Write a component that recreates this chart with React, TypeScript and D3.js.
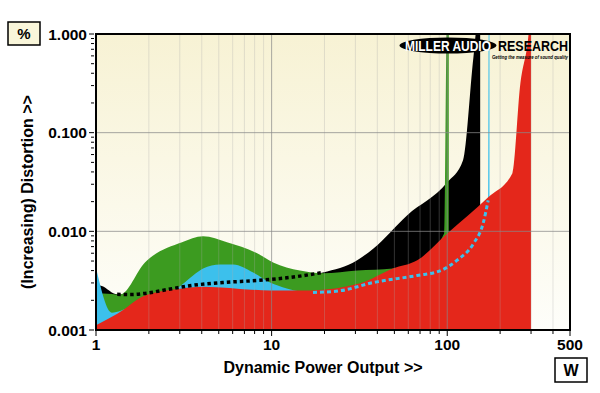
import React from 'react';
import * as d3 from 'd3';

interface Pt {
    w: number;
    v: number;
}

// black trace (8 ohm)
const blackPower = [1, 1.08, 1.32, 1.6, 1.9, 2.57, 3.52, 5.29, 8.27, 12.7, 19.6, 30.7, 38, 59, 100, 123, 141, 148, 154];
const blackDist = [0.0029, 0.0028, 0.0023, 0.00229, 0.00235, 0.00258, 0.00283, 0.00303, 0.00318, 0.00341, 0.00383, 0.0051, 0.0067, 0.0145, 0.0314, 0.0526, 0.584, 1.2, 1.2];

// green trace (1 ohm)
const greenPower = [1, 1.1, 1.37, 1.9, 3.09, 4.07, 5.57, 8.27, 10.2, 14.5, 19.6, 30.7, 49, 67.5, 96, 99.5, 102];
const greenDist = [0.0022, 0.00235, 0.00229, 0.00484, 0.00773, 0.0089, 0.00773, 0.00598, 0.00484, 0.004, 0.00375, 0.004, 0.0042, 0.0048, 0.0095, 1.2, 1.2];

// cyan trace (2 ohm)
const cyanPower = [1, 1.23, 1.56, 2.03, 2.89, 3.57, 4.07, 5.09, 6.04, 7.85, 9.8, 12.2, 17.2, 24.5, 38, 67.5, 91, 114, 141, 160, 171, 172, 174];
const cyanDist = [0.0043, 0.0015, 0.0017, 0.002, 0.00263, 0.00357, 0.0042, 0.00462, 0.00462, 0.00383, 0.00303, 0.00264, 0.0024, 0.0025, 0.00303, 0.00357, 0.00398, 0.0051, 0.0075, 0.012, 0.0206, 1.2, 1.2];

// red trace (4 ohm)
const redPower = [1, 1.33, 1.9, 3.09, 4.07, 9.8, 16.6, 31.9, 49, 67.5, 100, 171, 235, 261, 285, 296, 300];
const redDist = [0.00112, 0.00147, 0.00224, 0.00264, 0.00275, 0.00252, 0.00252, 0.00297, 0.0042, 0.0051, 0.0095, 0.0221, 0.0388, 0.318, 0.74, 1.2, 1.2];

// hidden parts shown dotted
const blackDotted = [1.3, 19.6];
const cyanDotted = [17, 171];

const xTickLabels = [1, 10, 100, 500];
const yTickLabels = [0.001, 0.01, 0.1, 1];

const pts = (p: number[], d: number[]): Pt[] => p.map((w, i) => ({ w, v: d[i] }));

export default function App() {
    const left = 96, right = 570, top = 34, bottom = 330;
    const x = d3.scaleLog().domain([1, 500]).range([left, right]);
    const y = d3.scaleLog().domain([0.001, 1]).range([bottom, top]);

    const area = d3.area<Pt>()
        .x(d => x(d.w))
        .y0(bottom)
        .y1(d => y(d.v))
        .curve(d3.curveMonotoneX);

    const line = d3.line<Pt>()
        .x(d => x(d.w))
        .y(d => y(d.v))
        .curve(d3.curveMonotoneX);

    const black = pts(blackPower, blackDist);
    const green = pts(greenPower, greenDist);
    const cyan = pts(cyanPower, cyanDist);
    const red = pts(redPower, redDist);

    const blackDot = black.filter(d => d.w >= blackDotted[0] && d.w <= blackDotted[1]);
    const cyanDot = cyan.filter(d => d.w >= cyanDotted[0] && d.w <= cyanDotted[1]);

    const xTicks = x.ticks();
    const yTicks = y.ticks();
    const isMajor = (v: number) => Math.abs(Math.log10(v) - Math.round(Math.log10(v))) < 1e-9;

    const font = "'Liberation Sans', Arial, sans-serif";

    return (
        <svg width={600} height={393} style={{ position: 'absolute', left: 0, top: 0, background: '#fff' }}>
            <defs>
                <linearGradient id="bg" x1="0" y1="0" x2="0" y2="1">
                    <stop offset="0%" stopColor="#f7f2d4" />
                    <stop offset="100%" stopColor="#fefefa" />
                </linearGradient>
                <clipPath id="plot">
                    <rect x={left} y={top} width={right - left} height={bottom - top} />
                </clipPath>
            </defs>

            <rect x={left} y={top} width={right - left} height={bottom - top} fill="url(#bg)" />

            <g clipPath="url(#plot)">
                <path d={area(black) ?? ''} fill="#000" />
                <path d={area(green) ?? ''} fill="#3c9b20" />
                <path d={area(cyan) ?? ''} fill="#3cc0ec" />
                <path d={area(red) ?? ''} fill="#e4271b" />

                {/* grid */}
                {xTicks.map((t, i) => (
                    <line key={'gx' + i} x1={x(t)} x2={x(t)} y1={top} y2={bottom}
                        stroke={isMajor(t) ? '#888' : '#aaa'} strokeOpacity={isMajor(t) ? 0.7 : 0.3} strokeWidth={1} />
                ))}
                {yTickLabels.slice(1, 3).map((t, i) => (
                    <line key={'gy' + i} x1={left} x2={right} y1={y(t)} y2={y(t)}
                        stroke="#888" strokeOpacity={0.75} strokeWidth={1} />
                ))}

                <path d={line(blackDot) ?? ''} fill="none" stroke="#000" strokeWidth={3.5} strokeDasharray="3.5 3" />
                <path d={line(cyanDot) ?? ''} fill="none" stroke="#3cc0ec" strokeWidth={3} strokeDasharray="4 3" />
            </g>

            {/* logo */}
            <g>
                <ellipse cx={448} cy={45.5} rx={48.5} ry={8} fill="#000" />
                <text x={405} y={51} fill="#fff" fontFamily={font}
                    fontWeight="bold" fontSize={14} textLength={86} lengthAdjust="spacingAndGlyphs">MILLER AUDIO</text>
                <text x={498} y={51} fill="#000" fontFamily={font}
                    fontWeight="bold" fontSize={14} textLength={70} lengthAdjust="spacingAndGlyphs">RESEARCH</text>
                <text x={492} y={59} fill="#000" fontFamily={font} fontWeight="bold" fontStyle="italic"
                    fontSize={4.5} textLength={76} lengthAdjust="spacingAndGlyphs">Getting the measure of sound quality</text>
            </g>

            <rect x={left} y={top} width={right - left} height={bottom - top} fill="none" stroke="#000" strokeWidth={2} />

            {/* y axis */}
            {yTicks.map((t, i) => (
                <line key={'ty' + i} x1={isMajor(t) ? left - 7 : left - 5} x2={left - 2} y1={y(t)} y2={y(t)}
                    stroke="#000" strokeWidth={1} />
            ))}
            {yTickLabels.map((t, i) => (
                <text key={'ly' + i} x={left - 9} y={y(t) + 5.5} textAnchor="end" fontFamily={font}
                    fontWeight="bold" fontSize={15.5} fill="#000">{d3.format('.3f')(t)}</text>
            ))}

            {/* x axis */}
            {xTicks.filter(t => t <= 500).map((t, i) => (
                <line key={'tx' + i} x1={x(t)} x2={x(t)} y1={bottom + 1} y2={bottom + (isMajor(t) || t === 500 ? 6 : 4)}
                    stroke="#000" strokeWidth={1} />
            ))}
            {xTickLabels.map((t, i) => (
                <text key={'lx' + i} x={x(t)} y={bottom + 20} textAnchor="middle" fontFamily={font}
                    fontWeight="bold" fontSize={15.5} fill="#000">{t}</text>
            ))}

            <text x={323} y={373} textAnchor="middle" fontFamily={font} fontWeight="bold" fontSize={16} fill="#000">
                Dynamic Power Output &gt;&gt;
            </text>
            <text transform="translate(33,192) rotate(-90)" textAnchor="middle" fontFamily={font} fontWeight="bold"
                fontSize={16} fill="#000">(Increasing) Distortion &gt;&gt;</text>

            <rect x={8} y={22} width={32} height={23} fill="#f9f6da" stroke="#000" strokeWidth={1.5} />
            <text x={24} y={39} textAnchor="middle" fontFamily={font} fontWeight="bold" fontSize={15} fill="#000">%</text>

            <rect x={555} y={358} width={32} height={24} fill="#fff" stroke="#000" strokeWidth={1.5} />
            <text x={571} y={376} textAnchor="middle" fontFamily={font} fontWeight="bold" fontSize={16} fill="#000">W</text>
        </svg>
    );
}
